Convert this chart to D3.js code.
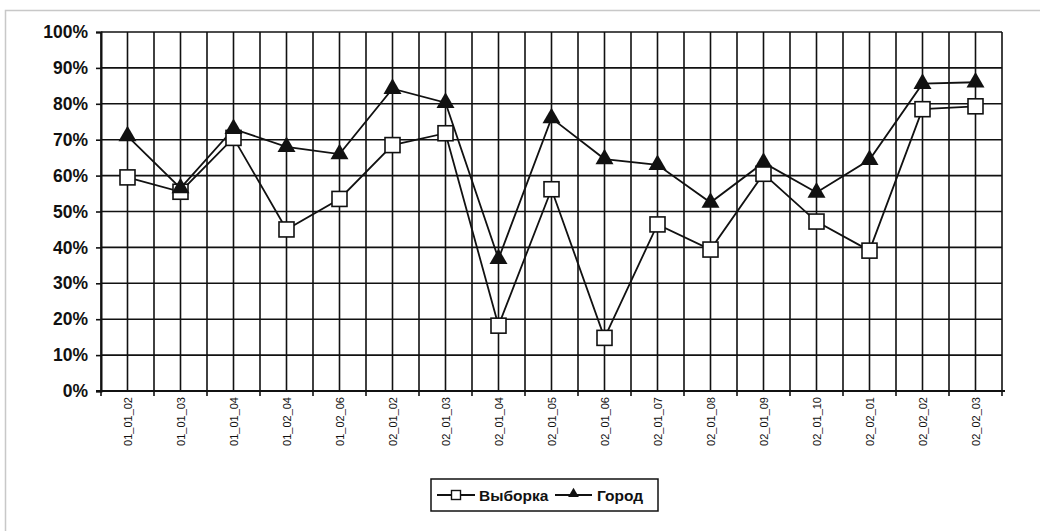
<!DOCTYPE html>
<html>
<head>
<meta charset="utf-8">
<script src="https://cdn.jsdelivr.net/npm/d3@7"></script>
<style>
  body { margin: 0; background: #fff; }
  text { font-family: "Liberation Sans", Arial, sans-serif; }
</style>
</head>
<body>
<svg id="chart" width="1043" height="531"></svg>
<script>
// categories on the x axis
var categories = ["01_01_02", "01_01_03", "01_01_04", "01_02_04", "01_02_06",
	"02_01_02", "02_01_03", "02_01_04", "02_01_05", "02_01_06", "02_01_07",
	"02_01_08", "02_01_09", "02_01_10", "02_02_01", "02_02_02", "02_02_03"];

// Выборка (squares)
var sampleValues = [59.5, 55.5, 70.5, 45, 53.5, 68.5, 71.8, 18.2, 56.2, 14.8, 46.4,
	39.4, 60.5, 47.2, 39.1, 78.5, 79.3];
// Город (triangles)
var cityValues = [71, 56.5, 73, 68, 66, 84.2, 80.3, 36.8, 76, 64.6, 63,
	52.5, 63.6, 55.3, 64.4, 85.6, 86];

var yTicks = [0, 10, 20, 30, 40, 50, 60, 70, 80, 90, 100];

var seriesNames = ["Выборка", "Город"];

var svg = d3.select("#chart");

// faint scan border
svg.append("path")
	.attr("d", "M5.5,531 L5.5,10.5 L1040,10.5")
	.attr("fill", "none")
	.attr("stroke", "#c8c8c8")
	.attr("stroke-width", 1.5);

// plot area bounds (window.top is reserved, so prefixed names)
var pLeft = 101, pRight = 1002, pTop = 32, pBottom = 391;

var xScale = d3.scaleBand()
	.domain(categories)
	.range([pLeft, pRight]);

var yScale = d3.scaleLinear()
	.domain([0, 100])
	.range([pBottom, pTop]);

var half = xScale.bandwidth() / 2;

// vertical gridlines: band edges and centers
var vLines = [];
categories.forEach(function(c){
	vLines.push(xScale(c));
	vLines.push(xScale(c) + half);
});
vLines.push(pRight);

var grid = svg.append("g").attr("class", "grid");
grid.selectAll(".vline")
	.data(vLines)
	.enter().append("line")
	.attr("x1", d => d).attr("x2", d => d)
	.attr("y1", pTop).attr("y2", pBottom)
	.attr("stroke", "#111")
	.attr("stroke-width", 1.6);

grid.selectAll(".hline")
	.data(yTicks)
	.enter().append("line")
	.attr("x1", pLeft).attr("x2", pRight)
	.attr("y1", d => yScale(d)).attr("y2", d => yScale(d))
	.attr("stroke", "#111")
	.attr("stroke-width", 1.6);

// y axis
var yAxis = svg.append("g")
	.attr("transform", "translate(" + pLeft + ",0)")
	.call(d3.axisLeft(yScale).tickValues(yTicks).tickSize(5).tickPadding(8)
		.tickFormat(d => d + "%"));
yAxis.select(".domain").attr("stroke", "#111").attr("stroke-width", 2);
yAxis.selectAll(".tick line").attr("stroke", "#111").attr("stroke-width", 1.6);
yAxis.selectAll("text")
	.style("font-family", "'Liberation Sans', Arial, sans-serif")
	.style("font-size", "17.5px")
	.style("font-weight", "bold")
	.attr("fill", "#111");

// x axis
var xAxis = svg.append("g")
	.attr("transform", "translate(0," + pBottom + ")");
xAxis.append("line")
	.attr("x1", pLeft - 5).attr("x2", pRight + 3)
	.attr("y1", 0).attr("y2", 0)
	.attr("stroke", "#111").attr("stroke-width", 2);
xAxis.selectAll(".xtick")
	.data(categories.map(c => xScale(c)).concat([pRight]))
	.enter().append("line")
	.attr("x1", d => d).attr("x2", d => d)
	.attr("y1", 0).attr("y2", 5)
	.attr("stroke", "#111").attr("stroke-width", 1.6);
xAxis.selectAll(".xlabel")
	.data(categories)
	.enter().append("text")
	.attr("transform", d => "translate(" + (xScale(d) + half + 4) + ",6) rotate(-90)")
	.attr("text-anchor", "end")
	.style("font-size", "11px")
	.attr("fill", "#111")
	.text(d => d);

// lines
var line = d3.line()
	.x((d, i) => xScale(categories[i]) + half)
	.y(d => yScale(d));

svg.append("path")
	.datum(cityValues)
	.attr("d", line)
	.attr("fill", "none")
	.attr("stroke", "#111")
	.attr("stroke-width", 1.8);

svg.append("path")
	.datum(sampleValues)
	.attr("d", line)
	.attr("fill", "none")
	.attr("stroke", "#111")
	.attr("stroke-width", 1.8);

var tri = d3.symbol().type(d3.symbolTriangle).size(140);

svg.selectAll(".sq")
	.data(sampleValues)
	.enter().append("rect")
	.attr("x", (d, i) => xScale(categories[i]) + half - 7.5)
	.attr("y", d => yScale(d) - 7.5)
	.attr("width", 15).attr("height", 15)
	.attr("fill", "#fff")
	.attr("stroke", "#111")
	.attr("stroke-width", 1.6);

svg.selectAll(".tri")
	.data(cityValues)
	.enter().append("path")
	.attr("d", tri)
	.attr("transform", (d, i) => "translate(" + (xScale(categories[i]) + half) + "," + yScale(d) + ")")
	.attr("fill", "#111");

// legend
var legend = svg.append("g").attr("transform", "translate(431,479)");
legend.append("rect")
	.attr("x", 0).attr("y", 0).attr("width", 227).attr("height", 32)
	.attr("fill", "#fff").attr("stroke", "#111").attr("stroke-width", 1.5);

legend.append("line").attr("x1", 6).attr("x2", 44).attr("y1", 16).attr("y2", 16)
	.attr("stroke", "#111").attr("stroke-width", 1.8);
legend.append("rect").attr("x", 20.5).attr("y", 11.5).attr("width", 9).attr("height", 9)
	.attr("fill", "#fff").attr("stroke", "#111").attr("stroke-width", 1.4);
legend.append("text").attr("x", 48).attr("y", 21.5)
	.style("font-size", "15.5px").style("font-weight", "bold").attr("fill", "#111")
	.text(seriesNames[0]);

legend.append("line").attr("x1", 124).attr("x2", 161).attr("y1", 16).attr("y2", 16)
	.attr("stroke", "#111").attr("stroke-width", 1.8);
legend.append("path")
	.attr("d", d3.symbol().type(d3.symbolTriangle).size(50))
	.attr("transform", "translate(142.5,15)")
	.attr("fill", "#111");
legend.append("text").attr("x", 166).attr("y", 21.5)
	.style("font-size", "15.5px").style("font-weight", "bold").attr("fill", "#111")
	.text(seriesNames[1]);
</script>
</body>
</html>
